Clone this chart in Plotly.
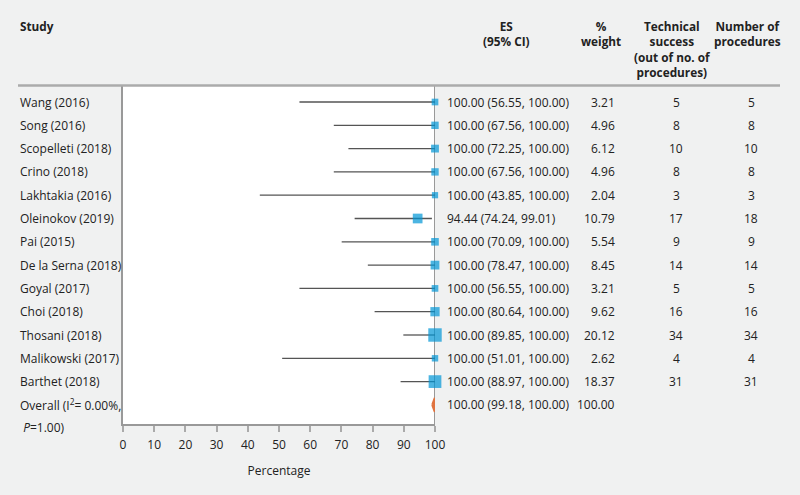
import plotly.graph_objects as go

# ---------------- data ----------------
studies = ["Wang (2016)", "Song (2016)", "Scopelleti (2018)", "Crino (2018)",
           "Lakhtakia (2016)", "Oleinokov (2019)", "Pai (2015)", "De la Serna (2018)",
           "Goyal (2017)", "Choi (2018)", "Thosani (2018)", "Malikowski (2017)",
           "Barthet (2018)"]
es = [100.00, 100.00, 100.00, 100.00, 100.00, 94.44, 100.00, 100.00,
      100.00, 100.00, 100.00, 100.00, 100.00]
ci_low = [56.55, 67.56, 72.25, 67.56, 43.85, 74.24, 70.09, 78.47,
          56.55, 80.64, 89.85, 51.01, 88.97]
ci_high = [100.00, 100.00, 100.00, 100.00, 100.00, 99.01, 100.00, 100.00,
           100.00, 100.00, 100.00, 100.00, 100.00]
weights = [3.21, 4.96, 6.12, 4.96, 2.04, 10.79, 5.54, 8.45,
           3.21, 9.62, 20.12, 2.62, 18.37]
tech_success = [5, 8, 10, 8, 3, 17, 9, 14, 5, 16, 34, 4, 31]
n_procedures = [5, 8, 10, 8, 3, 18, 9, 14, 5, 16, 34, 4, 31]

overall_es = 100.00
overall_low = 99.18
overall_high = 100.00
overall_weight = 100.00
overall_label = "Overall (I<sup>2</sup>= 0.00%,"
overall_label2 = " <i>P</i>=1.00)"

headers = {
    "study": ["Study"],
    "es": ["ES", "(95% CI)"],
    "weight": ["%", "weight"],
    "tech": ["Technical", "success", "(out of no. of", "procedures)"],
    "n": ["Number of", "procedures"],
}

x_ticks = [0, 10, 20, 30, 40, 50, 60, 70, 80, 90, 100]

# ---------------- layout helpers ----------------
W, H = 800, 495
L, R, T, B = 123, 435, 86, 424
FONT = "Open Sans, Noto Sans, sans-serif"
TXT = "#222222"
FS = 12


def px(x):
    return (x - L) / (R - L)


def py(y):
    return (B - y) / (B - T)


rows = list(range(len(studies)))
overall_row = len(studies)

fig = go.Figure()

# CI lines + square markers
fig.add_trace(go.Scatter(
    x=es, y=rows, mode="markers",
    marker=dict(symbol="square", color="#0096d6",
                size=[5.4 + 0.4 * w for w in weights], line=dict(width=0)),
    error_x=dict(type="data", symmetric=False,
                 array=[h - e for h, e in zip(ci_high, es)],
                 arrayminus=[e - l for e, l in zip(es, ci_low)],
                 width=0, color="#555555", thickness=1.3),
    cliponaxis=False, hoverinfo="skip", showlegend=False))

# overall diamond
dh = 0.3
fig.add_trace(go.Scatter(
    x=[overall_low, overall_es, overall_high, overall_es, overall_low],
    y=[overall_row, overall_row - dh, overall_row, overall_row + dh, overall_row],
    mode="lines", fill="toself", fillcolor="#e0733f",
    line=dict(color="#e0733f", width=2.5), cliponaxis=False,
    hoverinfo="skip", showlegend=False))

ann = []
# study labels and table columns
for i, s in enumerate(studies):
    ann.append(dict(x=px(18), y=i, xref="paper", yref="y", text=s,
                    xanchor="left", yanchor="middle", showarrow=False))
    ann.append(dict(x=px(445), y=i, xref="paper", yref="y",
                    text=f"{es[i]:.2f} ({ci_low[i]:.2f}, {ci_high[i]:.2f})",
                    xanchor="left", yanchor="middle", showarrow=False))
    ann.append(dict(x=px(617), y=i, xref="paper", yref="y",
                    text=f"{weights[i]:.2f}",
                    xanchor="right", yanchor="middle", showarrow=False))
    ann.append(dict(x=px(676), y=i, xref="paper", yref="y",
                    text=str(tech_success[i]),
                    xanchor="center", yanchor="middle", showarrow=False))
    ann.append(dict(x=px(751), y=i, xref="paper", yref="y",
                    text=str(n_procedures[i]),
                    xanchor="center", yanchor="middle", showarrow=False))

ann.append(dict(x=px(18), y=overall_row, xref="paper", yref="y", text=overall_label,
                xanchor="left", yanchor="middle", showarrow=False))
ann.append(dict(x=px(18), y=overall_row, xref="paper", yref="y", text=overall_label2,
                xanchor="left", yanchor="middle", showarrow=False, yshift=-23))
ann.append(dict(x=px(445), y=overall_row, xref="paper", yref="y",
                text=f"{overall_es:.2f} ({overall_low:.2f}, {overall_high:.2f})",
                xanchor="left", yanchor="middle", showarrow=False))
ann.append(dict(x=px(617), y=overall_row, xref="paper", yref="y",
                text=f"{overall_weight:.2f}",
                xanchor="right", yanchor="middle", showarrow=False))


# headers (multi-line, top anchored)
def header(x, lines, anchor="center"):
    ann.append(dict(x=px(x), y=py(16), xref="paper", yref="paper",
                    text="<br>".join(f"<b>{t}</b>" for t in lines),
                    xanchor=anchor, yanchor="top", align=anchor if anchor != "center" else "center",
                    showarrow=False, font=dict(size=11.8, color=TXT)))


header(18, headers["study"], "left")
header(506, headers["es"])
header(601, headers["weight"])
header(672, headers["tech"])
header(747, headers["n"])

shapes = [
    # header rule
    dict(type="line", xref="paper", yref="paper", x0=px(18), x1=px(780),
         y0=py(85.5), y1=py(85.5), line=dict(color="#ababab", width=2.5)),
    # reference line at 100
    dict(type="line", xref="x", yref="paper", x0=100, x1=100, y0=0, y1=py(85),
         line=dict(color="#999999", width=2), layer="below"),
]

fig.update_layout(
    width=W, height=H,
    margin=dict(l=L, r=W - R, t=T, b=H - B, pad=0),
    paper_bgcolor="#f0f1f1", plot_bgcolor="#ffffff",
    font=dict(family=FONT, size=FS, color=TXT),
    annotations=ann, shapes=shapes, showlegend=False,
    xaxis=dict(range=[0, 100], tickvals=x_ticks, ticks="outside", ticklen=6,
               tickcolor="#aaaaaa", tickwidth=2, showline=True, linecolor="#999999",
               linewidth=2, showgrid=False, zeroline=False, ticklabelstandoff=3,
               tickfont=dict(size=FS, color=TXT),
               title=dict(text="Percentage", standoff=14, font=dict(size=FS, color=TXT))),
    yaxis=dict(range=[13.82, -0.687], showticklabels=False, ticks="", showgrid=False,
               zeroline=False, showline=True, linecolor="#999999", linewidth=2),
)

fig.write_html("out.html", config={"displayModeBar": False},
               post_script="document.body.style.margin='0';document.body.style.overflow='hidden';")
